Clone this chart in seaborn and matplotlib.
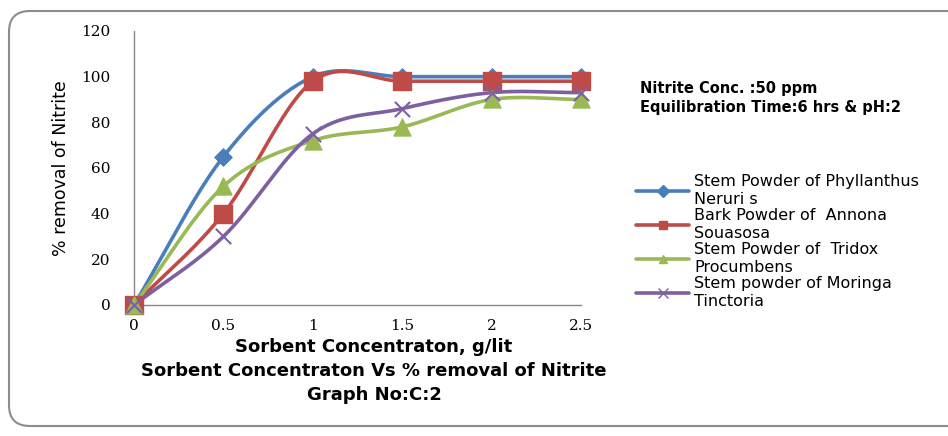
import numpy as np
import pandas as pd
import matplotlib
matplotlib.use("Agg")
import matplotlib.pyplot as plt
import seaborn as sns
from matplotlib.lines import Line2D
from matplotlib.patches import FancyBboxPatch

# data
dose = [0, 0.5, 1, 1.5, 2, 2.5]
phyllanthus = [0, 65, 100, 100, 100, 100]
annona = [0, 40, 98, 98, 98, 98]
tridox = [0, 52, 72, 78, 90, 90]
moringa = [0, 30, 75, 86, 93, 93]

names = ["Stem Powder of Phyllanthus\nNeruri s",
         "Bark Powder of  Annona\nSouasosa",
         "Stem Powder of  Tridox\nProcumbens",
         "Stem powder of Moringa\nTinctoria"]
series = [phyllanthus, annona, tridox, moringa]
colors = ["#4A7EBB", "#BE4B48", "#98B954", "#7D60A0"]
markers = ["D", "s", "^", "x"]
msizes = [80, 150, 150, 120]


def smooth(x, y, n=30):
    # catmull-rom curve through the points, like the smoothed line option in Excel
    x = np.asarray(x, float)
    y = np.asarray(y, float)
    px = np.concatenate([[2 * x[0] - x[1]], x, [2 * x[-1] - x[-2]]])
    py = np.concatenate([[2 * y[0] - y[1]], y, [2 * y[-1] - y[-2]]])
    xs, ys = [], []
    for i in range(1, len(px) - 2):
        t = np.linspace(0, 1, n, endpoint=False)
        for p, out in ((px, xs), (py, ys)):
            p0, p1, p2, p3 = p[i - 1], p[i], p[i + 1], p[i + 2]
            out.extend(0.5 * ((2 * p1) + (-p0 + p2) * t
                              + (2 * p0 - 5 * p1 + 4 * p2 - p3) * t ** 2
                              + (-p0 + 3 * p1 - 3 * p2 + p3) * t ** 3))
    xs.append(x[-1])
    ys.append(y[-1])
    return np.array(xs), np.array(ys)


sns.set_style("white")
plt.rcParams['font.family'] = ['DejaVu Sans']
plt.rcParams['text.color'] = 'black'
plt.rcParams['axes.labelcolor'] = 'black'
plt.rcParams['xtick.color'] = 'black'
plt.rcParams['ytick.color'] = 'black'

fig = plt.figure(figsize=(9.48, 4.36), dpi=100)
ax = fig.add_axes([0.1414, 0.3005, 0.4715, 0.6284])

for vals, name, c, m, ms in zip(series, names, colors, markers, msizes):
    sx, sy = smooth(dose, vals)
    sm = pd.DataFrame({"x": sx, "y": sy})
    sns.lineplot(data=sm, x="x", y="y", sort=False, color=c, linewidth=2.6, ax=ax)
    pts = pd.DataFrame({"x": dose, "y": vals})
    if m == "x":
        sns.scatterplot(data=pts, x="x", y="y", marker=m, s=ms, color=c,
                        linewidth=1.5, ax=ax, zorder=3, clip_on=False)
    else:
        sns.scatterplot(data=pts, x="x", y="y", marker=m, s=ms, color=c,
                        edgecolor=c, ax=ax, zorder=3, clip_on=False)

ax.set_xlim(0, 2.5)
ax.set_ylim(0, 120)
ax.set_xticks(dose)
ax.set_xticklabels(["0", "0.5", "1", "1.5", "2", "2.5"])
ax.set_yticks(range(0, 121, 20))
for lab in ax.get_xticklabels() + ax.get_yticklabels():
    lab.set_family("DejaVu Serif")
    lab.set_fontsize(11)
ax.tick_params(axis="both", direction="out", length=5, width=1, color="#868686", pad=5)
ax.tick_params(axis="y", pad=12)
for s in ["top", "right"]:
    ax.spines[s].set_visible(False)
for s in ["left", "bottom"]:
    ax.spines[s].set_color("#868686")
    ax.spines[s].set_linewidth(1)
ax.set_xlabel("")
ax.set_ylabel("% removal of Nitrite", fontsize=12.5, labelpad=8)
ax.patch.set_alpha(0)

cx = 374 / 948
fig.text(cx, 1 - 347 / 436, "Sorbent Concentraton, g/lit",
         ha="center", va="center", fontsize=13, fontweight="bold")
fig.text(cx, 1 - 371 / 436, "Sorbent Concentraton Vs % removal of Nitrite",
         ha="center", va="center", fontsize=13, fontweight="bold")
fig.text(cx, 1 - 395 / 436, "Graph No:C:2",
         ha="center", va="center", fontsize=13, fontweight="bold")

fig.text(640 / 948, 1 - 98 / 436, "Nitrite Conc. :50 ppm\nEquilibration Time:6 hrs & pH:2",
         ha="left", va="center", fontsize=10.5, fontweight="bold", linespacing=1.4)

handles = [Line2D([], [], color=c, linewidth=2.6, marker=m, markersize=6 if m != "x" else 7,
                  markeredgecolor=c)
           for c, m in zip(colors, markers)]
leg = fig.legend(handles, names, loc="upper left", bbox_to_anchor=(630 / 948, 1 - 168 / 436),
                 frameon=False, fontsize=11.5, handlelength=3.3, handletextpad=0.3,
                 labelspacing=0.1, borderaxespad=0)
for t in leg.get_texts():
    t.set_linespacing(1.2)

frame = FancyBboxPatch((9 / 948, 10 / 436), 960 / 948, 415 / 436,
                       boxstyle="round,pad=0,rounding_size=0.022",
                       transform=fig.transFigure, facecolor="none",
                       edgecolor="#8C8C8C", linewidth=1.5, clip_on=False,
                       mutation_aspect=948 / 436)
fig.patches.append(frame)

fig.savefig("out.png", dpi=100)
